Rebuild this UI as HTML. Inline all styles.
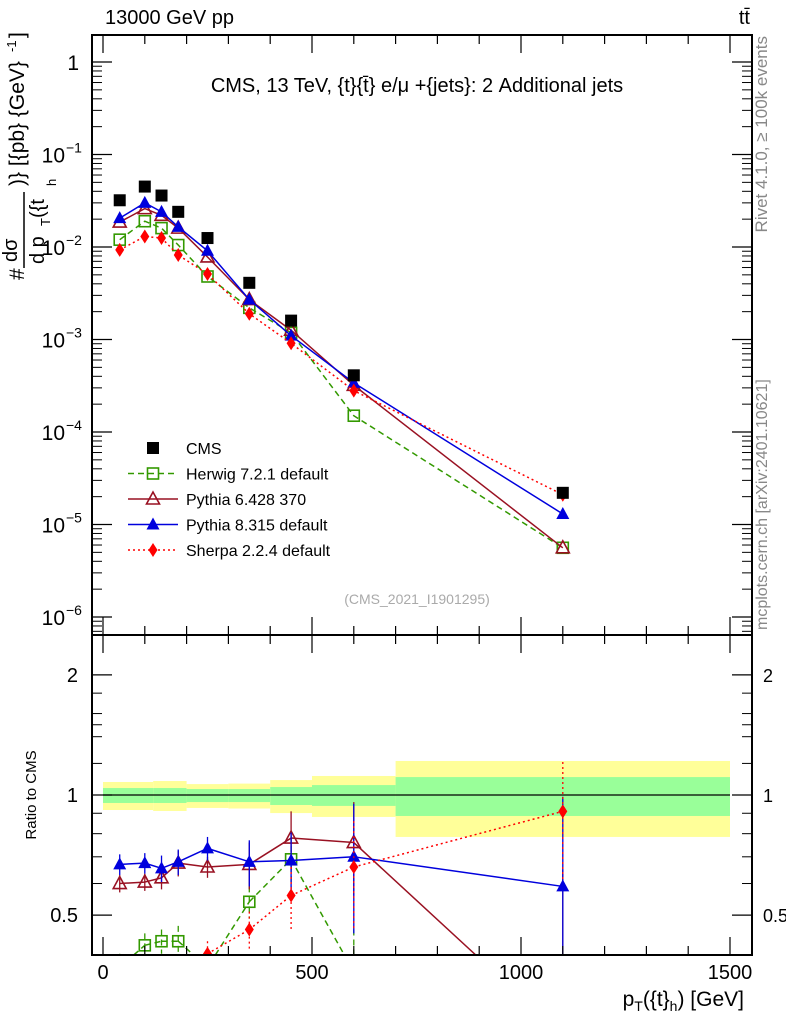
<!DOCTYPE html>
<html><head><meta charset="utf-8"><style>
html,body{margin:0;background:#fff;overflow:hidden;width:786px;height:1024px;}
svg{display:block;font-family:"Liberation Sans",sans-serif;}
</style></head><body>
<svg id="c" width="786" height="1024" viewBox="0 0 786 1024">
<defs>
<clipPath id="cm"><rect x="92" y="35" width="660" height="600"/></clipPath>
<clipPath id="cr"><rect x="92" y="635" width="660" height="320"/></clipPath>
</defs>
<g id="bands" clip-path="url(#cr)"></g>
<g id="mainMarks" clip-path="url(#cm)"></g>
<g id="ratioMarks" clip-path="url(#cr)"></g>
<g id="axes"></g>
<text x="105" y="24" font-size="20">13000 GeV pp</text>
<text x="750" y="24" font-size="20" text-anchor="end">tt̄</text>
<text x="417" y="92" font-size="20" text-anchor="middle">CMS, 13 TeV, {t}{t̄} e/μ +{jets}: 2 Additional jets</text>
<text x="417" y="604" font-size="14" fill="#aaa" text-anchor="middle">(CMS_2021_I1901295)</text>
<text transform="translate(767,36) rotate(-90)" font-size="17" fill="#888" text-anchor="end">Rivet 4.1.0, ≥ 100k events</text>
<text transform="translate(767,630) rotate(-90)" font-size="16" fill="#888">mcplots.cern.ch [arXiv:2401.10621]</text>
<g font-size="21">
<text transform="translate(24,280) rotate(-90)">#</text>
<text transform="translate(17,262) rotate(-90)" font-size="20">dσ</text>
<line x1="24" y1="268" x2="24" y2="192" stroke="#000" stroke-width="1.5"/>
<text transform="translate(44,264) rotate(-90)" font-size="20">d p</text>
<text transform="translate(50,226) rotate(-90)" font-size="13">T</text>
<text transform="translate(44,218) rotate(-90)" font-size="20">({t</text>
<text transform="translate(56,186) rotate(-90)" font-size="13">h</text>
<text transform="translate(24,186) rotate(-90)">)} [{pb} {GeV}</text>
<text transform="translate(16,52) rotate(-90)" font-size="13">-1</text>
<text transform="translate(24,38) rotate(-90)">]</text>
</g>
<text transform="translate(36,795) rotate(-90)" font-size="15" text-anchor="middle">Ratio to CMS</text>
<text x="744" y="1006" font-size="21" text-anchor="end">p<tspan font-size="14" dy="5">T</tspan><tspan dy="-5">({t}</tspan><tspan font-size="14" dy="5">h</tspan><tspan dy="-5">) [GeV]</tspan></text>
<g id="legend"></g>
</svg>
<script>
const xs=[40,100,140,180,250,350,450,600,1100];
const cms=[0.032,0.045,0.036,0.024,0.0125,0.0041,0.0016,0.00041,0.000022];
const herwig=[0.012,0.019,0.016,0.0105,0.0048,0.0022,0.00118,0.00015,0.0000056];
const py6=[0.0186,0.026,0.022,0.016,0.0078,0.0027,0.00126,0.00032,0.0000056];
const py8=[0.0205,0.030,0.024,0.0165,0.0091,0.0027,0.0011,0.00034,0.000013];
const sherpa=[0.0093,0.013,0.0125,0.0082,0.0051,0.0019,0.00091,0.00028,0.000021];
const rHerwig=[0.37,0.42,0.43,0.43,0.37,0.54,0.69,0.36,0.25];
const rPy6=[0.60,0.605,0.62,0.675,0.66,0.67,0.78,0.76,0.25];
const rPy8=[0.67,0.675,0.655,0.68,0.735,0.68,0.685,0.70,0.59];
const rSherpa=[0.29,0.29,0.35,0.34,0.40,0.46,0.56,0.66,0.91];
const errPy8=[0.04,0.04,0.05,0.05,0.05,0.09,0.12,0.25,0.4];
const errPy6=[0.03,0.03,0.04,0.05,0.04,0.09,0.13,0.2,0.4];
const errHerwig=[0.03,0.03,0.03,0.04,0.03,0.05,0.1,0.1,0.1];
const errSherpa=[0.03,0.03,0.03,0.03,0.03,0.05,0.1,0.2,0.3];
const binEdges=[0,120,200,300,400,500,700,1500];
const yelHi=[1.078,1.084,1.065,1.068,1.09,1.116,1.217];
const yelLo=[0.917,0.912,0.928,0.925,0.901,0.881,0.785];
const grnHi=[1.041,1.041,1.035,1.035,1.047,1.059,1.109];
const grnLo=[0.955,0.955,0.960,0.960,0.944,0.939,0.886];
const mainTicks=["1","10","10","10","10","10","10"];
const mainExp=["","−1","−2","−3","−4","−5","−6"];
const xTickLabels=["0","500","1000","1500"];
const legendNames=["CMS","Herwig 7.2.1 default","Pythia 6.428 370","Pythia 8.315 default","Sherpa 2.2.4 default"];

const NS="http://www.w3.org/2000/svg";
const X=v=>103+v*0.418;
const YM=v=>62-92.5*Math.log10(v);
const YR=v=>795-399*Math.log10(v);
const RB=955;
function mk(tag,at,parent){const e=document.createElementNS(NS,tag);for(const k in at)e.setAttribute(k,at[k]);parent.appendChild(e);return e;}
const gB=document.getElementById('bands'),gM=document.getElementById('mainMarks'),gR=document.getElementById('ratioMarks'),gA=document.getElementById('axes'),gL=document.getElementById('legend');

// clip a polyline to y<=ymax; returns list of segments
function clipLine(pts,ymax){
 const segs=[];
 for(let i=0;i<pts.length-1;i++){
  let [x1,y1]=pts[i],[x2,y2]=pts[i+1];
  if(y1>ymax&&y2>ymax)continue;
  if(y1>ymax){x1=x1+(x2-x1)*(ymax-y1)/(y2-y1);y1=ymax;}
  if(y2>ymax){x2=x1+(x2-x1)*(ymax-y1)/(y2-y1);y2=ymax;}
  segs.push([x1,y1,x2,y2]);
 }
 return segs;
}

for(let i=0;i<binEdges.length-1;i++){
 let r=mk('rect',{x:X(binEdges[i]),y:YR(yelHi[i]),width:X(binEdges[i+1])-X(binEdges[i]),height:YR(yelLo[i])-YR(yelHi[i]),fill:'#ffff99'},gB);
 
 
 let g=mk('rect',{x:X(binEdges[i]),y:YR(grnHi[i]),width:X(binEdges[i+1])-X(binEdges[i]),height:YR(grnLo[i])-YR(grnHi[i]),fill:'#99ff99'},gB);
 
 
}
let l1=mk('line',{x1:X(0),x2:X(1500),y1:YR(1),y2:YR(1),stroke:'#000','stroke-width':1.2},gB);



function marker(type,color,x,y,parent){
 let e;
 if(type==='sq') e=mk('rect',{x:x-6,y:y-6,width:12,height:12,fill:'#000'},parent);
 else if(type==='osq') e=mk('rect',{x:x-5.5,y:y-5.5,width:11,height:11,fill:'none',stroke:color,'stroke-width':1.6},parent);
 else if(type==='otri') e=mk('polygon',{points:`${x},${y-7} ${x-6.5},${y+5} ${x+6.5},${y+5}`,fill:'none',stroke:color,'stroke-width':1.6},parent);
 else if(type==='tri') e=mk('polygon',{points:`${x},${y-7} ${x-6.5},${y+5} ${x+6.5},${y+5}`,fill:color},parent);
 else e=mk('polygon',{points:`${x},${y-7} ${x-4.5},${y} ${x},${y+7} ${x+4.5},${y}`,fill:color},parent);
 return e;
}
const series=[
 {n:'herwig',d:herwig,r:rHerwig,c:'#339900',t:'osq',dash:'6,4',e:errHerwig},
 {n:'pythia6',d:py6,r:rPy6,c:'#991122',t:'otri',dash:'',e:errPy6},
 {n:'pythia8',d:py8,r:rPy8,c:'#0000dd',t:'tri',dash:'',e:errPy8},
 {n:'sherpa',d:sherpa,r:rSherpa,c:'#ff0000',t:'dia',dash:'2,3',e:errSherpa}];
series.forEach(s=>{
 let p=mk('polyline',{points:xs.map((x,i)=>X(x)+','+YM(s.d[i])).join(' '),fill:'none',stroke:s.c,'stroke-width':1.5,'stroke-dasharray':s.dash},gM);
 
 
 xs.forEach((x,i)=>{let m=marker(s.t,s.c,X(x),YM(s.d[i]),gM);
  
  });
 const rp=xs.map((x,i)=>[X(x),YR(s.r[i])]);
 const d=clipLine(rp,RB).map(g=>`M${g[0]},${g[1]}L${g[2]},${g[3]}`).join('');
 let q=mk('path',{d:d,fill:'none',stroke:s.c,'stroke-width':1.5,'stroke-dasharray':s.dash},gR);
 
 
 xs.forEach((x,i)=>{
  const yv=YR(s.r[i]);
  if(s.e){const yt=YR(s.r[i]+s.e[i]);
   if(yt<RB){let b=mk('line',{x1:X(x),x2:X(x),y1:yt,y2:Math.min(RB,YR(Math.max(0.01,s.r[i]-s.e[i]))),stroke:s.c,'stroke-width':1.3,'stroke-dasharray':s.dash},gR);
   
   }}
  if(yv-7<RB){let m=marker(s.t,s.c,X(x),yv,gR);
  
  }});
});
xs.forEach((x,i)=>{let m=marker('sq','#000',X(x),YM(cms[i]),gM);
 
 });

[[35,635],[635,955]].forEach(([t,b])=>{let f=mk('rect',{x:92,y:t,width:660,height:b-t,fill:'none',stroke:'#000','stroke-width':2},gA);
 
 });
for(let d=0;d<=6;d++){
 const y=YM(Math.pow(10,-d));
 mk('line',{x1:92,x2:112,y1:y,y2:y,stroke:'#000','stroke-width':1.2},gA);
 mk('line',{x1:752,x2:732,y1:y,y2:y,stroke:'#000','stroke-width':1.2},gA);
 for(let k=2;k<10;k++){const yy=YM(k*Math.pow(10,-d-1));if(yy>635)continue;
  mk('line',{x1:92,x2:102,y1:yy,y2:yy,stroke:'#000'},gA);mk('line',{x1:752,x2:742,y1:yy,y2:yy,stroke:'#000'},gA);}
 const t=mk('text',{x:d===0?79:65,y:y+8,'font-size':21,'text-anchor':'end'},gA);
 t.textContent=mainTicks[d];
 
 
 if(mainExp[d]){const s=mk('text',{x:66,y:y-2,'font-size':14},gA);s.textContent=mainExp[d];
  
  }
}
for(let k=2;k<10;k++){const yy=YM(k);if(yy>35)mk('line',{x1:92,x2:102,y1:yy,y2:yy,stroke:'#000'},gA);}
[[2,'2'],[1,'1'],[0.5,'0.5']].forEach(([v,l])=>{const y=YR(v);
 mk('line',{x1:92,x2:112,y1:y,y2:y,stroke:'#000','stroke-width':1.2},gA);mk('line',{x1:752,x2:732,y1:y,y2:y,stroke:'#000','stroke-width':1.2},gA);
 const a=mk('text',{x:78,y:y+7,'font-size':20,'text-anchor':'end'},gA);a.textContent=l;
 
 
 const b=mk('text',{x:763,y:y+7,'font-size':18},gA);b.textContent=l;
 
 });
[0.6,0.7,0.8,0.9,1.5,1.2,1.4,1.6,1.8].forEach(v=>{const y=YR(v);mk('line',{x1:92,x2:102,y1:y,y2:y,stroke:'#000'},gA);mk('line',{x1:752,x2:742,y1:y,y2:y,stroke:'#000'},gA);});
for(let v=0;v<=1500;v+=100){const x=X(v),L=v%500===0?18:9;
 [[35,1],[635,-1],[635,1],[955,-1]].forEach(([y,s])=>mk('line',{x1:x,x2:x,y1:y,y2:y+s*L,stroke:'#000','stroke-width':1.2},gA));}
xTickLabels.forEach((l,i)=>{const t=mk('text',{x:X(i*500),y:979,'font-size':20,'text-anchor':'middle'},gA);t.textContent=l;
 
 });
const lt=['sq','osq','otri','tri','dia'],lc=['#000','#339900','#991122','#0000dd','#ff0000'],ld=['','6,4','','','2,3'];
legendNames.forEach((n,i)=>{const y=448+i*25.5;
 const g=mk('g',{},gL);
 
 
 if(i>0)mk('line',{x1:128,x2:178,y1:y,y2:y,stroke:lc[i],'stroke-width':1.5,'stroke-dasharray':ld[i]},g);
 marker(lt[i],lc[i],153,y,g);
 const t=mk('text',{x:186,y:y+6,'font-size':16},g);t.textContent=n;});
</script>
</body></html>
